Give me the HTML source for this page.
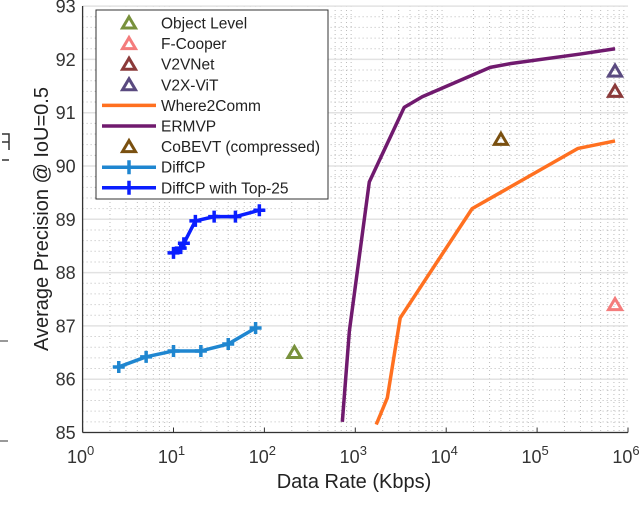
<!DOCTYPE html>
<html><head><meta charset="utf-8"><style>
body{margin:0;background:#fff}
svg{display:block;font-family:"Liberation Sans",sans-serif}
</style></head><body>
<svg id="c" width="640" height="512" viewBox="0 0 640 512">
<g id="grid"></g><g id="axes"></g><g id="series"></g><g id="legend"></g>
<path d="M2 134H9V150M2 142H9M2 160H9" stroke="#333" stroke-width="1.5" fill="none"/>
<line x1="0" y1="341" x2="8" y2="341" stroke="#333"/>
<line x1="0" y1="441" x2="8" y2="441" stroke="#333"/>
</svg>
<script>
const yTicks=[85,86,87,88,89,90,91,92,93];
const xTickExps=[0,1,2,3,4,5,6];
const ermvpX=[720,860,1425,3450,5450,30500,50500,297000,720000];
const ermvpY=[85.2,86.9,89.7,91.1,91.3,91.85,91.92,92.1,92.2];
const w2cX=[1700,2250,3120,19300,282000,720000];
const w2cY=[85.15,85.65,87.15,89.2,90.33,90.47];
const diffX=[2.5,5,10,20,40,80];
const diffY=[86.23,86.42,86.53,86.53,86.66,86.96];
const topX=[10,12,13,17.4,28,48,88];
const topY=[88.37,88.46,88.55,88.97,89.05,89.05,89.17];
const markerNames=["Object Level","F-Cooper","V2VNet","V2X-ViT","CoBEVT (compressed)"];
const markerX=[214,720000,720000,720000,40000];
const markerY=[86.5,87.4,91.4,91.78,90.5];
const markerColors=["#78913c","#f47c7c","#8b3a3a","#5a4a80","#7a5010"];

const X0=82.6,DEC=90.9,Y0=432.5,UNIT=53.3,L=82.6,R=628,T=6;
const sx=v=>X0+Math.log10(v)*DEC;
const sy=v=>Y0-(v-85)*UNIT;
const NS="http://www.w3.org/2000/svg";
function mk(tag,attrs,parent){const e=document.createElementNS(NS,tag);for(const k in attrs)e.setAttribute(k,attrs[k]);parent.appendChild(e);return e;}
const grid=document.getElementById('grid'),axes=document.getElementById('axes'),ser=document.getElementById('series'),leg=document.getElementById('legend');
for(let d=0;d<6;d++)for(let m=2;m<10;m++){const x=sx(m*Math.pow(10,d));
const l=mk('line',{x1:x,y1:T,x2:x,y2:Y0,stroke:'#bbb','stroke-width':1,'stroke-dasharray':'1 3'},grid);

}
for(let v=85;v<93;v+=0.2){if(Math.abs(v-Math.round(v))<0.01)continue;const y=sy(v);
const l=mk('line',{x1:L,y1:y,x2:R,y2:y,stroke:'#bbb','stroke-width':1,'stroke-dasharray':'1 3'},grid);

}
yTicks.forEach(v=>{const y=sy(v);
const l=mk('line',{x1:L,y1:y,x2:R,y2:y,stroke:'#e2e2e2','stroke-width':1.5},grid);


const t=mk('text',{x:L-7,y:y+6.5,'font-size':18,'text-anchor':'end',fill:'#333'},axes);t.textContent=v;

});
xTickExps.forEach(e=>{const x=sx(Math.pow(10,e));
const t=mk('text',{x:x-2,y:463,'font-size':18,'text-anchor':'middle',fill:'#333'},axes);
t.innerHTML='10<tspan dy="-8" font-size="13">'+e+'</tspan>';


const k=mk('line',{x1:x,y1:Y0,x2:x,y2:Y0-5,stroke:'#333'},axes);

});
let a=mk('line',{x1:L,y1:Y0,x2:R,y2:Y0,stroke:'#333','stroke-width':1.3},axes);


a=mk('line',{x1:L,y1:T,x2:L,y2:Y0,stroke:'#333','stroke-width':1.3},axes);


let t=mk('text',{x:354,y:488,'font-size':20,'text-anchor':'middle',fill:'#222'},axes);t.textContent='Data Rate (Kbps)';


t=mk('text',{x:0,y:0,'font-size':20,'text-anchor':'middle',fill:'#222',transform:'translate(48 219) rotate(-90)'},axes);t.textContent='Average Precision @ IoU=0.5';



function line(xs,ys,color,name,cross){const p=xs.map((x,i)=>sx(x)+','+sy(ys[i])).join(' ');
const g=mk('g',{},ser);
mk('polyline',{points:p,fill:'none',stroke:color,'stroke-width':3.5,'stroke-linejoin':'round'},g);
if(cross)xs.forEach((x,i)=>{const cx=sx(x),cy=sy(ys[i]);
const c=mk('path',{d:`M${cx-6} ${cy}H${cx+6}M${cx} ${cy-6}V${cy+6}`,stroke:color,'stroke-width':3.5},g);

});}
line(ermvpX,ermvpY,'#701a6e','ermvp-line',false);
line(w2cX,w2cY,'#ff7020','where2comm-line',false);
line(diffX,diffY,'#1f86d0','diffcp-line',true);
line(topX,topY,'#0a1eff','diffcp-top25-line',true);
function tri(cx,cy,color,parent){return mk('path',{d:`M${cx} ${cy-6}L${cx+6.5} ${cy+5}L${cx-6.5} ${cy+5}Z`,fill:'none',stroke:color,'stroke-width':3,'stroke-linejoin':'miter'},parent);}
markerX.forEach((x,i)=>{const m=tri(sx(x),sy(markerY[i]),markerColors[i],ser);

});
const box=mk('rect',{x:96,y:10,width:232,height:189,fill:'#fff',stroke:'#333','stroke-width':1},leg);


const entries=[['Object Level','tri','#78913c'],['F-Cooper','tri','#f47c7c'],['V2VNet','tri','#8b3a3a'],['V2X-ViT','tri','#5a4a80'],['Where2Comm','line','#ff7020'],['ERMVP','line','#701a6e'],['CoBEVT (compressed)','tri','#7a5010'],['DiffCP','cross','#1f86d0'],['DiffCP with Top-25','cross','#0a1eff']];
entries.forEach((e,i)=>{const y=23+i*20.6;const g=mk('g',{},leg);


if(e[1]==='tri')tri(129,y,e[2],g);
else{mk('line',{x1:102,y1:y,x2:156,y2:y,stroke:e[2],'stroke-width':3.5},g);
if(e[1]==='cross')mk('path',{d:`M${123} ${y}H${135}M129 ${y-7}V${y+7}`,stroke:e[2],'stroke-width':3.5},g);}
const tt=mk('text',{x:161,y:y+5.5,'font-size':15.5,fill:'#222'},g);tt.textContent=e[0];});
</script>
</body></html>
